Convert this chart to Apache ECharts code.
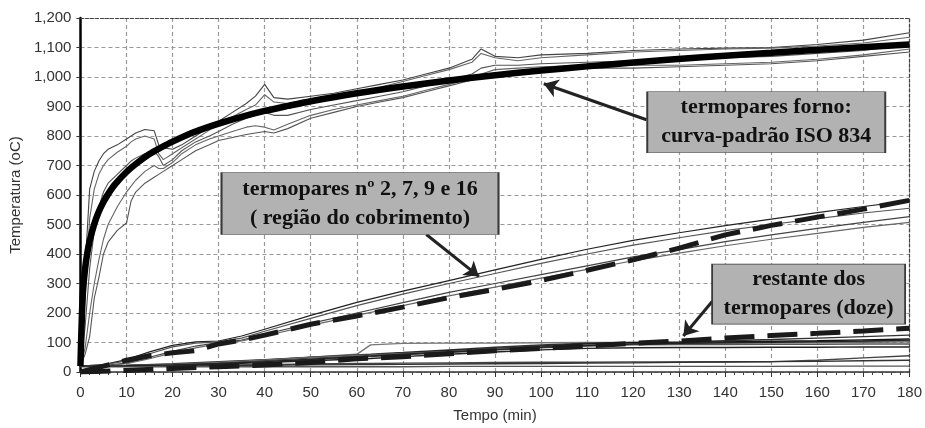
<!DOCTYPE html>
<html>
<head>
<meta charset="utf-8">
<script src="https://cdn.jsdelivr.net/npm/echarts@6/dist/echarts.min.js"></script>
<style>
html,body{margin:0;padding:0;background:#fff;}
#chart{width:925px;height:428px;}
</style>
</head>
<body>
<div id="chart"></div>
<script>
// ---------- DATA ----------
// Furnace thermocouples (5 thin lines)
const timeFurnace = [0,1,2,3,4,5,6,8,10,11,12,14,16,17,18,20,22,25,28,30,33,36,38,40,42,45,50,55,60,65,70,75,80,85,87,90,95,100,110,120,130,140,150,160,170,180];
const furnace1 = [20,350,620,680,715,740,755,770,790,800,810,822,818,770,760,755,770,800,830,850,880,910,935,975,930,925,935,945,960,975,990,1010,1030,1060,1095,1070,1065,1075,1080,1090,1095,1098,1100,1110,1125,1150];
const furnace2 = [20,250,520,620,670,700,720,745,765,780,790,800,790,740,720,740,760,790,820,840,865,890,905,940,915,910,925,935,950,965,985,1005,1025,1050,1080,1065,1055,1065,1075,1085,1090,1095,1098,1105,1115,1135];
const furnace3 = [20,150,350,480,560,610,640,670,700,715,725,740,750,730,700,720,750,780,800,815,840,860,870,880,870,870,890,905,920,935,950,970,990,1010,1030,1040,1040,1045,1050,1055,1060,1065,1070,1080,1090,1110];
const furnace4 = [20,80,200,300,380,450,500,560,610,630,650,680,700,690,690,710,740,770,790,800,815,830,835,830,820,840,870,890,905,920,935,955,975,995,1010,1025,1030,1035,1040,1040,1040,1045,1050,1060,1075,1095];
const furnace5 = [20,60,120,250,320,400,440,480,505,580,610,640,660,670,680,700,720,750,770,785,795,805,810,815,810,825,860,880,900,915,930,950,970,990,1000,1010,1020,1025,1030,1030,1035,1040,1045,1055,1070,1085];

// ISO 834 standard curve (thick black)
const timeISO = [0,0.5,1,1.5,2,3,4,5,6,7.5,10,12.5,15,17.5,20,25,30,35,40,45,50,60,70,80,90,100,110,120,135,150,165,180];
const iso834  = [20,261,349,404,444,502,544,576,603,636,678,711,739,761,781,815,842,865,885,902,918,945,968,988,1006,1022,1036,1049,1067,1082,1097,1110];

// Cover region thermocouples nº 2, 7, 9, 16 (thin) + simulated (dashed)
const timeCover = [0,5,10,15,20,25,30,35,40,50,60,70,80,90,100,110,120,130,140,150,160,170,180];
const cover1 = [20,25,42,68,90,102,105,122,145,192,236,274,310,346,382,416,446,472,496,518,540,561,580];
const cover2 = [20,24,38,62,85,98,102,115,138,182,225,264,300,334,368,400,430,455,479,500,520,539,555];
const cover3 = [20,22,30,50,70,88,100,108,128,165,200,235,270,300,330,360,390,415,442,465,487,507,527];
const cover4 = [20,21,28,45,65,82,96,105,122,158,192,225,258,288,318,348,377,403,428,450,470,490,507];
const coverSim = [0,20,40,55,65,72,95,108,125,162,190,220,252,280,310,345,380,420,465,497,525,552,582];

// Remaining thermocouples (thin) + simulated (dashed)
const timeRest = [0,10,20,30,40,50,60,63,70,80,90,100,110,120,130,140,150,160,170,180];
const rest1  = [20,22,25,30,40,50,60,92,97,98,98,99,100,100,100,101,102,103,104,105];
const rest2  = [20,22,28,35,42,50,58,60,66,75,84,92,98,100,102,106,110,115,120,125];
const rest3  = [20,21,25,32,40,48,55,58,64,72,80,88,95,99,100,102,104,106,109,112];
const rest4  = [20,21,24,30,36,42,50,52,58,66,74,82,88,92,93,93,94,94,95,95];
const rest5  = [20,21,23,27,32,38,44,46,52,60,68,75,80,82,83,83,84,84,85,85];
const rest6  = [20,20,21,23,25,27,29,29,30,31,32,33,33,34,34,35,35,40,48,55];
const rest7  = [20,20,21,22,23,24,25,25,26,27,28,29,30,31,33,34,35,36,38,40];
const rest8  = [18,18,18,18,18,18,18,18,18,19,19,19,19,19,19,19,19,20,20,20];
const rest9  = [20,22,26,33,41,49,56,58,63,70,78,86,92,96,97,98,99,100,101,102];
const rest10 = [20,21,24,29,35,43,52,54,60,68,76,84,90,95,97,99,101,103,105,108];
const restSim = [0,5,12,18,24,32,45,47,52,62,72,80,88,97,105,115,124,131,139,148];

// Annotation texts, box anchors [t, T] and arrows [[tail],[head]]
const boxTexts = ['termopares forno:\ncurva-padrão ISO 834', 'termopares nº 2, 7, 9 e 16\n( região do cobrimento)', 'restante dos\ntermopares (doze)'];
const boxAnchors = [[148.9, 847], [60.7, 571], [158.1, 264]];
const arrows = [[[122.9, 855], [100.6, 977]], [[75.1, 466], [86.5, 324]], [[137.2, 240], [130.9, 122]]];

// ---------- CHART ----------
const zip = (t, v) => t.map((x, i) => [x, v[i]]);
const BOX_SIZES = [[238, 61], [277, 62], [193, 60]];

function thin(data, color, w) {
  return { type: 'line', data: data, showSymbol: false, symbol: 'none', silent: true,
    lineStyle: { color: color, width: w || 1.1 }, z: 2 };
}

const series = [];
[furnace1, furnace2, furnace3, furnace4, furnace5].forEach((f, i) =>
  series.push(thin(zip(timeFurnace, f), ['#444', '#666', '#555', '#666', '#555'][i], 1.1)));
[cover1, cover2, cover3, cover4].forEach((c, i) =>
  series.push(thin(zip(timeCover, c), ['#222', '#555', '#444', '#666'][i], 1.2)));
[rest1, rest2, rest3, rest4, rest5, rest6, rest7, rest8, rest9, rest10].forEach((r, i) =>
  series.push(thin(zip(timeRest, r), ['#777', '#333', '#111', '#555', '#222', '#444', '#333', '#555', '#666', '#222'][i], 1.4)));

series.push({ type: 'line', data: zip(timeCover, coverSim), symbol: 'none', silent: true, z: 3,
  lineStyle: { color: '#1a1a1a', width: 5, type: [30, 13] } });
series.push({ type: 'line', data: zip(timeRest, restSim), symbol: 'none', silent: true, z: 3,
  lineStyle: { color: '#1a1a1a', width: 5, type: [30, 13] } });
series.push({ type: 'line', data: zip(timeISO, iso834), symbol: 'none', silent: true, z: 4, smooth: 0.3,
  lineStyle: { color: '#000', width: 6.5 } });

series.push({
  type: 'line', data: [], silent: true, z: 10,
  markLine: {
    silent: true, animation: false,
    symbol: ['none', 'arrow'], symbolSize: 14,
    lineStyle: { color: '#222', width: 3, type: 'solid' },
    label: { show: false },
    data: arrows.map(a => [{ coord: a[0] }, { coord: a[1] }])
  },
  markPoint: {
    silent: true, animation: false,
    symbol: 'rect',
    itemStyle: { color: '#b2b2b2', borderColor: '#3a3a3a', borderWidth: 1 },
    label: { show: true, position: 'inside', color: '#111', fontFamily: 'Liberation Serif',
      fontWeight: 'bold', fontSize: 22, lineHeight: 29 },
    data: boxAnchors.map((c, i) => ({ coord: c, symbolSize: BOX_SIZES[i], value: boxTexts[i],
      label: { formatter: boxTexts[i] } }))
  }
});

const axisText = { color: '#333', fontFamily: 'Liberation Sans', fontSize: 15 };

const option = {
  animation: false,
  backgroundColor: '#fff',
  grid: { left: 78, right: 15, top: 18, bottom: 55 },
  xAxis: [{
    type: 'value', min: 0, max: 180, interval: 10,
    name: 'Tempo (min)', nameLocation: 'middle', nameGap: 36,
    nameTextStyle: Object.assign({}, axisText),
    axisLine: { show: true, onZero: false, lineStyle: { color: '#333', width: 1.5 } },
    axisTick: { show: true, length: 5, lineStyle: { color: '#333' } },
    minorTick: { show: true, splitNumber: 5, length: 3, lineStyle: { color: '#444' } },
    axisLabel: Object.assign({ margin: 13 }, axisText),
    splitLine: { show: true, lineStyle: { color: '#999', width: 1.2, type: [4, 3] } }
  }, {
    type: 'value', min: 0, max: 180, position: 'top',
    axisLine: { show: true, onZero: false, lineStyle: { color: '#444', width: 1.2, type: [3, 2] } },
    axisTick: { show: false }, axisLabel: { show: false }, splitLine: { show: false }
  }],
  yAxis: [{
    type: 'value', min: 0, max: 1200, interval: 100,
    name: 'Temperatura (oC)', nameLocation: 'middle', nameGap: 52,
    nameTextStyle: Object.assign({}, axisText),
    axisLine: { show: true, onZero: false, lineStyle: { color: '#000', width: 2.5 } },
    axisTick: { show: true, length: 4, lineStyle: { color: '#333' } },
    axisLabel: Object.assign({ margin: 9, formatter: v => v.toLocaleString('en-US') }, axisText),
    splitLine: { show: true, lineStyle: { color: '#999', width: 1.2, type: [4, 3] } }
  }, {
    type: 'value', min: 0, max: 1200, position: 'right',
    axisLine: { show: true, onZero: false, lineStyle: { color: '#444', width: 1.2, type: [3, 2] } },
    axisTick: { show: false }, axisLabel: { show: false }, splitLine: { show: false }
  }],
  series: series
};

const chart = echarts.init(document.getElementById('chart'), null, { renderer: 'canvas' });
chart.setOption(option);
</script>
</body>
</html>
